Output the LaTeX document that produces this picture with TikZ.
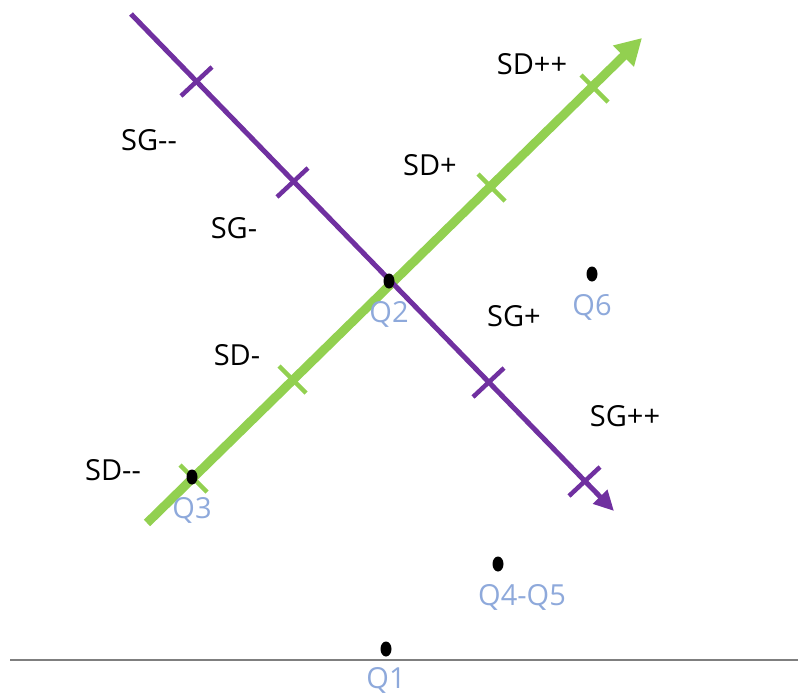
\documentclass[tikz,border=0pt]{standalone}
\usepackage{fontspec}
\setmainfont{Open Sans}[Ligatures=TeXOff]
\usetikzlibrary{positioning, arrows.meta, shapes.geometric, calc}
\definecolor{gPurple}{HTML}{7030A0}
\definecolor{gGreen}{HTML}{92D050}
\definecolor{gBlue}{HTML}{8EA9DB}
\definecolor{gGray}{HTML}{7F7F7F}

\begin{document}
\begin{tikzpicture}[
  x=1pt, y=-1pt,
  every node/.style={font=\fontsize{29}{34}\selectfont, inner sep=0pt},
  lab/.style={text=black},
  qlab/.style={text=gBlue},
  dot/.style={ellipse, fill=black, minimum width=11pt, minimum height=15pt},
  sgaxis/.style={draw=gPurple, line width=5pt, -{Triangle[length=20pt, width=19pt]}},
  sdaxis/.style={draw=gGreen, line width=9pt, -{Triangle[length=26pt, width=28pt]}},
  sgtick/.style={draw=gPurple, line width=4.5pt},
  sdtick/.style={draw=gGreen, line width=4.5pt},
  node distance=13pt,
]
  \useasboundingbox (0,0) rectangle (798,696);

  % Baseline
  \coordinate (base l) at (10,660);
  \coordinate (base r) at (798,660);
  \draw[gGray, line width=1.3pt] (base l) -- (base r);

  % SD axis (green)
  \coordinate (sd start) at (147,523);
  \coordinate (sd end) at (642,38);
  \draw[sdaxis] (sd start) -- (sd end);
  \foreach \tx/\ty in {192/477, 291/378, 490/186, 593/87}
    \draw[sdtick] ($(\tx,\ty)+(-12,-12)$) -- ($(\tx,\ty)+(15,15)$);

  % SG axis (purple)
  \coordinate (sg start) at (131,14);
  \coordinate (sg end) at (614,511);
  \draw[sgaxis] (sg start) -- (sg end);
  \foreach \tx/\ty in {197/81, 293/182, 489/382, 585/481}
    \draw[sgtick] ($(\tx,\ty)+(-16,15)$) -- ($(\tx,\ty)+(15,-14)$);

  % Axis labels
  \node[lab] (sgmm) at (149,140) {SG--};
  \node[lab] (sgm)  at (234,228) {SG-};
  \node[lab] (sgp)  at (514,316) {SG+};
  \node[lab] (sgpp) at (625,416) {SG++};
  \node[lab] (sdmm) at (113,470) {SD--};
  \node[lab] (sdm)  at (237,355) {SD-};
  \node[lab] (sdp)  at (430,165) {SD+};
  \node[lab] (sdpp) at (532,64)  {SD++};

  % Points
  \node[dot] (q1)  at (386,649) {};
  \node[dot] (q2)  at (389,281) {};
  \node[dot] (q3)  at (192,477) {};
  \node[dot] (q45) at (498,564) {};
  \node[dot] (q6)  at (592,274) {};

  \node[qlab, below=11pt of q1] {Q1};
  \node[qlab, below=13pt of q2] {Q2};
  \node[qlab, below=13pt of q3] {Q3};
  \node[qlab, below=13pt of q45, xshift=24pt] {Q4-Q5};
  \node[qlab, below=13pt of q6] {Q6};
\end{tikzpicture}
\end{document}
